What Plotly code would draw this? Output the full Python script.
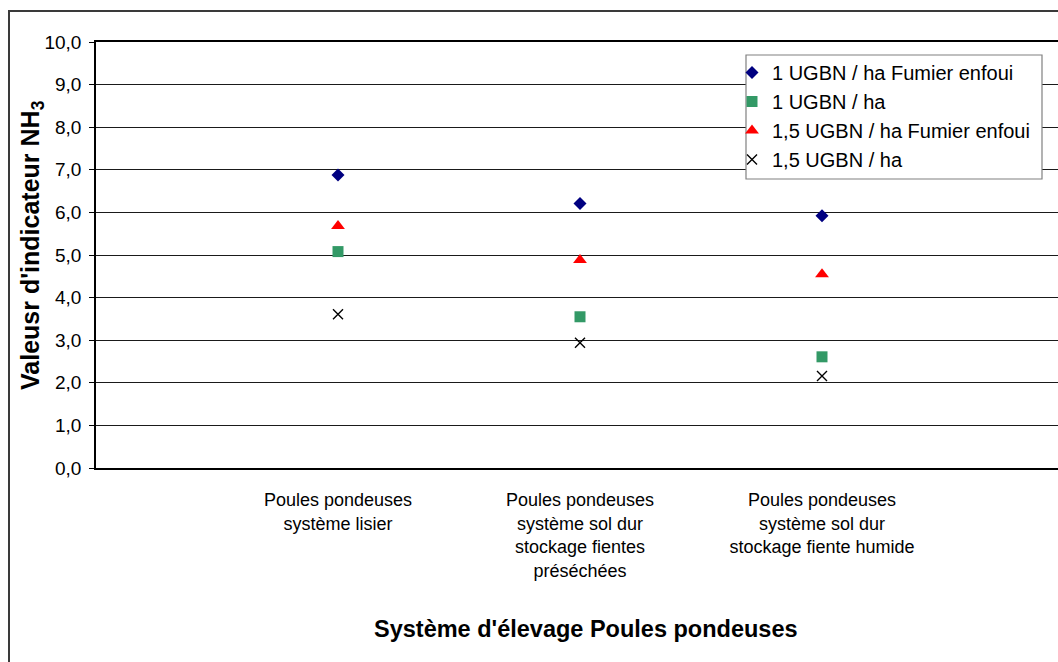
import plotly.graph_objects as go

categories = [
    "Poules pondeuses système lisier",
    "Poules pondeuses système sol dur stockage fientes préséchées",
    "Poules pondeuses système sol dur stockage fiente humide",
]
tick_labels = [
    "Poules pondeuses<br>système lisier",
    "Poules pondeuses<br>système sol dur<br>stockage fientes<br>préséchées",
    "Poules pondeuses<br>système sol dur<br>stockage fiente humide",
]
series_names = [
    "1 UGBN / ha Fumier enfoui",
    "1 UGBN / ha",
    "1,5 UGBN / ha Fumier enfoui",
    "1,5 UGBN / ha",
]
ugbn1_enfoui = [6.88, 6.21, 5.92]
ugbn1 = [5.08, 3.55, 2.61]
ugbn15_enfoui = [5.68, 4.88, 4.55]
ugbn15 = [3.61, 2.94, 2.16]
y_ticks = [0, 1, 2, 3, 4, 5, 6, 7, 8, 9, 10]
x_title = "Système d'élevage Poules pondeuses"
y_title = "Valeusr d'indicateur NH<sub>3</sub>"

FONT = "Liberation Sans, Arial, sans-serif"

W, H = 1058, 662
L, R, T, B = 96, 0, 42, 194
pw, ph = W - L - R, H - T - B


def px_x(p):
    return (p - L) / pw


def px_y(p):
    return (H - B - p) / ph


styles = [
    dict(symbol="diamond", size=10, color="#000080"),
    dict(symbol="square", size=11, color="#339966"),
    dict(symbol="triangle-up", size=12, color="#FF0000"),
    dict(symbol="x-thin", size=10, color="#000000", line=dict(width=1.4, color="#000000")),
]
values = [ugbn1_enfoui, ugbn1, ugbn15_enfoui, ugbn15]

fig = go.Figure()
for name, vals, st in zip(series_names, values, styles):
    fig.add_trace(go.Scatter(
        x=categories, y=vals, mode="markers", name=name,
        marker=st, cliponaxis=False,
    ))

fig.update_layout(
    width=W, height=H,
    margin=dict(l=L, r=R, t=T, b=B, autoexpand=False),
    paper_bgcolor="white", plot_bgcolor="white",
    font=dict(family=FONT, size=19, color="black"),
    separators=", ",
    showlegend=True,
    legend=dict(
        x=px_x(732), y=px_y(53), xanchor="left", yanchor="top",
        bgcolor="rgba(0,0,0,0)", borderwidth=0,
        font=dict(family=FONT, size=20, color="black"),
        itemwidth=30,
    ),
    xaxis=dict(
        type="category", range=[-1, -1 + pw / 242.0],
        tickvals=categories, ticktext=tick_labels,
        tickfont=dict(family=FONT, size=18),
        ticks="", showgrid=False, zeroline=False,
        showline=True, linecolor="black", linewidth=1.5, mirror=True,
        ticklabelstandoff=15,
        automargin=False,
    ),
    yaxis=dict(
        range=[0, 10], tickvals=y_ticks, tickformat=".1f",
        ticks="outside", ticklen=5, tickcolor="black", tickwidth=1,
        showgrid=True, gridcolor="#1a1a1a", gridwidth=1.2,
        zeroline=False, showline=True, linecolor="black", linewidth=1.5,
        tickfont=dict(family=FONT, size=19),
        ticklabelstandoff=4,
        automargin=False,
    ),
    annotations=[
        dict(text=x_title, xref="paper", yref="paper",
             x=px_x(586), y=px_y(629), xanchor="center", yanchor="middle",
             showarrow=False, font=dict(family=FONT, size=23.5, weight="bold")),
        dict(text=y_title, xref="paper", yref="paper", textangle=-90,
             x=px_x(32), y=px_y(245), xanchor="center", yanchor="middle",
             showarrow=False, font=dict(family=FONT, size=25, weight="bold")),
    ],
    shapes=[
        dict(type="rect", xref="paper", yref="paper",
             x0=px_x(9), x1=1.3, y0=-1.0, y1=px_y(11),
             line=dict(color="#3a3a3a", width=2), fillcolor="rgba(0,0,0,0)",
             layer="below"),
        dict(type="rect", xref="paper", yref="paper",
             x0=px_x(746), x1=px_x(1042), y0=px_y(179), y1=px_y(55),
             line=dict(color="#808080", width=1.2), fillcolor="white",
             layer="above"),
    ],
)

fig.write_html(
    "out.html",
    config={"displayModeBar": False},
    post_script="document.body.style.margin='0';document.body.style.overflow='hidden';",
)
